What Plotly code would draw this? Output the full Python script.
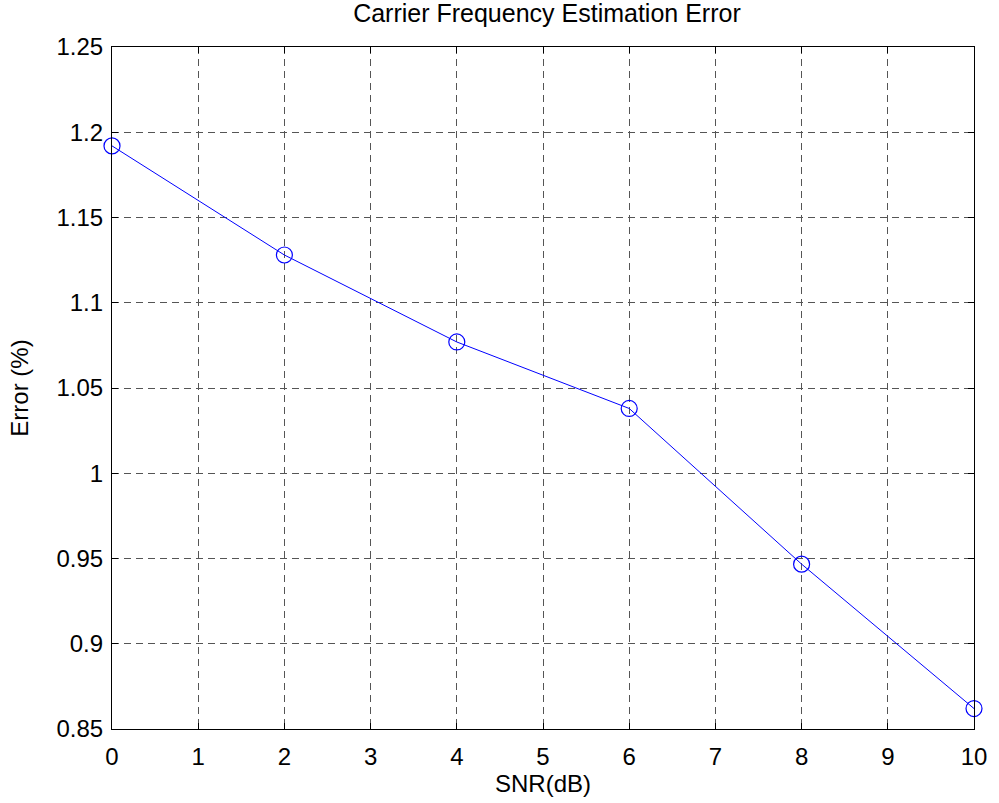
import plotly.graph_objects as go

snr_db = [0, 2, 4, 6, 8, 10]
error_pct = [1.192, 1.128, 1.077, 1.038, 0.9467, 0.862]

y_tickvals = [0.85, 0.9, 0.95, 1.0, 1.05, 1.1, 1.15, 1.2, 1.25]
y_ticktext = ["0.85", "0.9", "0.95", "1", "1.05", "1.1", "1.15", "1.2", "1.25"]
x_tickvals = [0, 1, 2, 3, 4, 5, 6, 7, 8, 9, 10]

FONT = "Liberation Sans, Arial, sans-serif"
FS = 24

fig = go.Figure()
fig.add_trace(go.Scatter(
    x=snr_db, y=error_pct, mode="lines+markers",
    line=dict(color="#0000ff", width=1),
    marker=dict(symbol="circle-open", size=16, color="#0000ff", line=dict(width=1.2)),
    showlegend=False, cliponaxis=False,
))

axis_common = dict(
    showline=True, linecolor="black", linewidth=1.2, mirror="ticks",
    ticks="inside", ticklen=6, tickcolor="black",
    showgrid=True, gridcolor="#555555", griddash="7px,5px", gridwidth=1,
    zeroline=False,
    tickfont=dict(family=FONT, size=FS, color="black"),
)

fig.update_layout(
    width=999, height=803,
    margin=dict(l=112, r=19, t=47, b=72),
    paper_bgcolor="white", plot_bgcolor="white",
    title=dict(text="Carrier Frequency Estimation Error", x=0.5475, xanchor="center",
               y=1 - 13 / 803, yanchor="middle",
               font=dict(family=FONT, size=25, color="black")),
    xaxis=dict(range=[0, 10], tickvals=x_tickvals, ticklabelstandoff=6,
               title=dict(text="SNR(dB)", font=dict(family=FONT, size=FS, color="black"), standoff=4),
               **axis_common),
    yaxis=dict(range=[0.85, 1.25], tickvals=y_tickvals, ticktext=y_ticktext, ticklabelstandoff=3,
               title=dict(text="Error (%)", font=dict(family=FONT, size=FS, color="black"), standoff=20),
               **axis_common),
)

fig.write_html("out.html", config={"displayModeBar": False},
               post_script="document.body.style.margin='0';document.body.style.overflow='hidden';")
